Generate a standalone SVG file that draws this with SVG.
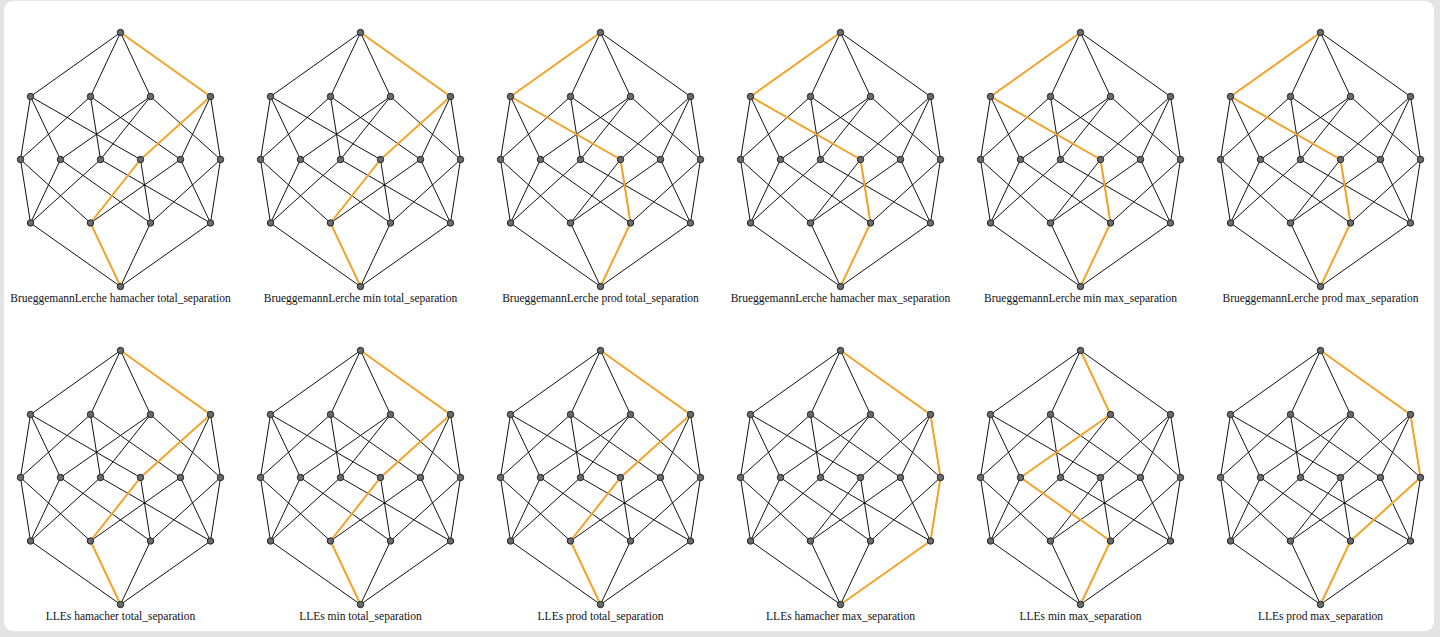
<svg xmlns="http://www.w3.org/2000/svg" xmlns:xlink="http://www.w3.org/1999/xlink" width="1440" height="637" viewBox="0 0 1440 637">
<style>
.e line{stroke:#111;stroke-width:1}
.hl{fill:none;stroke:#f5a52a;stroke-width:2;stroke-linejoin:round}
.node circle{fill:#6b6b6b;stroke:#222;stroke-width:1}
.lbl{font-family:"Liberation Serif","Times New Roman",serif;font-size:11.5px;fill:#111;text-anchor:middle}
</style>
<defs>
<g id="lattice-edges" class="e">
<line x1="120.5" y1="32.5" x2="30.5" y2="96.5"/>
<line x1="120.5" y1="32.5" x2="90.5" y2="96.5"/>
<line x1="120.5" y1="32.5" x2="150.5" y2="96.5"/>
<line x1="120.5" y1="32.5" x2="210.5" y2="96.5"/>
<line x1="30.5" y1="96.5" x2="20.5" y2="159.5"/>
<line x1="30.5" y1="96.5" x2="60.5" y2="159.5"/>
<line x1="30.5" y1="96.5" x2="140.5" y2="159.5"/>
<line x1="90.5" y1="96.5" x2="20.5" y2="159.5"/>
<line x1="90.5" y1="96.5" x2="100.5" y2="159.5"/>
<line x1="90.5" y1="96.5" x2="180.5" y2="159.5"/>
<line x1="150.5" y1="96.5" x2="60.5" y2="159.5"/>
<line x1="150.5" y1="96.5" x2="100.5" y2="159.5"/>
<line x1="150.5" y1="96.5" x2="220.5" y2="159.5"/>
<line x1="210.5" y1="96.5" x2="140.5" y2="159.5"/>
<line x1="210.5" y1="96.5" x2="180.5" y2="159.5"/>
<line x1="210.5" y1="96.5" x2="220.5" y2="159.5"/>
<line x1="20.5" y1="159.5" x2="30.5" y2="223"/>
<line x1="20.5" y1="159.5" x2="90.5" y2="223"/>
<line x1="60.5" y1="159.5" x2="30.5" y2="223"/>
<line x1="60.5" y1="159.5" x2="150.5" y2="223"/>
<line x1="100.5" y1="159.5" x2="30.5" y2="223"/>
<line x1="100.5" y1="159.5" x2="210.5" y2="223"/>
<line x1="140.5" y1="159.5" x2="90.5" y2="223"/>
<line x1="140.5" y1="159.5" x2="150.5" y2="223"/>
<line x1="180.5" y1="159.5" x2="90.5" y2="223"/>
<line x1="180.5" y1="159.5" x2="210.5" y2="223"/>
<line x1="220.5" y1="159.5" x2="150.5" y2="223"/>
<line x1="220.5" y1="159.5" x2="210.5" y2="223"/>
<line x1="30.5" y1="223" x2="120.5" y2="286.5"/>
<line x1="90.5" y1="223" x2="120.5" y2="286.5"/>
<line x1="150.5" y1="223" x2="120.5" y2="286.5"/>
<line x1="210.5" y1="223" x2="120.5" y2="286.5"/>
</g>
</defs>
<rect x="0" y="0" width="1440" height="637" fill="#e4e4e4"/>
<rect x="4" y="1" width="1430" height="630" rx="9" fill="#ffffff"/>

<!-- Panel 1 -->
<g id="panel1" transform="translate(0,0)">
<g id="panel1-connectors"><use xlink:href="#lattice-edges"/><polyline class="hl" points="120.5,32.5 210.5,96.5 140.5,159.5 90.5,223 120.5,286.5"/></g>
<g id="p1-top" class="node"><circle cx="120.5" cy="32.5" r="3.2"/></g>
<g id="p1-abc" class="node"><circle cx="30.5" cy="96.5" r="3.2"/></g>
<g id="p1-abd" class="node"><circle cx="90.5" cy="96.5" r="3.2"/></g>
<g id="p1-acd" class="node"><circle cx="150.5" cy="96.5" r="3.2"/></g>
<g id="p1-bcd" class="node"><circle cx="210.5" cy="96.5" r="3.2"/></g>
<g id="p1-ab" class="node"><circle cx="20.5" cy="159.5" r="3.2"/></g>
<g id="p1-ac" class="node"><circle cx="60.5" cy="159.5" r="3.2"/></g>
<g id="p1-ad" class="node"><circle cx="100.5" cy="159.5" r="3.2"/></g>
<g id="p1-bc" class="node"><circle cx="140.5" cy="159.5" r="3.2"/></g>
<g id="p1-bd" class="node"><circle cx="180.5" cy="159.5" r="3.2"/></g>
<g id="p1-cd" class="node"><circle cx="220.5" cy="159.5" r="3.2"/></g>
<g id="p1-a" class="node"><circle cx="30.5" cy="223" r="3.2"/></g>
<g id="p1-b" class="node"><circle cx="90.5" cy="223" r="3.2"/></g>
<g id="p1-c" class="node"><circle cx="150.5" cy="223" r="3.2"/></g>
<g id="p1-d" class="node"><circle cx="210.5" cy="223" r="3.2"/></g>
<g id="p1-bot" class="node"><circle cx="120.5" cy="286.5" r="3.2"/></g>
<text class="lbl" x="120.5" y="302">BrueggemannLerche hamacher total_separation</text>
</g>

<!-- Panel 2 -->
<g id="panel2" transform="translate(240,0)">
<g id="panel2-connectors"><use xlink:href="#lattice-edges"/><polyline class="hl" points="120.5,32.5 210.5,96.5 140.5,159.5 90.5,223 120.5,286.5"/></g>
<g id="p2-top" class="node"><circle cx="120.5" cy="32.5" r="3.2"/></g>
<g id="p2-abc" class="node"><circle cx="30.5" cy="96.5" r="3.2"/></g>
<g id="p2-abd" class="node"><circle cx="90.5" cy="96.5" r="3.2"/></g>
<g id="p2-acd" class="node"><circle cx="150.5" cy="96.5" r="3.2"/></g>
<g id="p2-bcd" class="node"><circle cx="210.5" cy="96.5" r="3.2"/></g>
<g id="p2-ab" class="node"><circle cx="20.5" cy="159.5" r="3.2"/></g>
<g id="p2-ac" class="node"><circle cx="60.5" cy="159.5" r="3.2"/></g>
<g id="p2-ad" class="node"><circle cx="100.5" cy="159.5" r="3.2"/></g>
<g id="p2-bc" class="node"><circle cx="140.5" cy="159.5" r="3.2"/></g>
<g id="p2-bd" class="node"><circle cx="180.5" cy="159.5" r="3.2"/></g>
<g id="p2-cd" class="node"><circle cx="220.5" cy="159.5" r="3.2"/></g>
<g id="p2-a" class="node"><circle cx="30.5" cy="223" r="3.2"/></g>
<g id="p2-b" class="node"><circle cx="90.5" cy="223" r="3.2"/></g>
<g id="p2-c" class="node"><circle cx="150.5" cy="223" r="3.2"/></g>
<g id="p2-d" class="node"><circle cx="210.5" cy="223" r="3.2"/></g>
<g id="p2-bot" class="node"><circle cx="120.5" cy="286.5" r="3.2"/></g>
<text class="lbl" x="120.5" y="302">BrueggemannLerche min total_separation</text>
</g>

<!-- Panel 3 -->
<g id="panel3" transform="translate(480,0)">
<g id="panel3-connectors"><use xlink:href="#lattice-edges"/><polyline class="hl" points="120.5,32.5 30.5,96.5 140.5,159.5 150.5,223 120.5,286.5"/></g>
<g id="p3-top" class="node"><circle cx="120.5" cy="32.5" r="3.2"/></g>
<g id="p3-abc" class="node"><circle cx="30.5" cy="96.5" r="3.2"/></g>
<g id="p3-abd" class="node"><circle cx="90.5" cy="96.5" r="3.2"/></g>
<g id="p3-acd" class="node"><circle cx="150.5" cy="96.5" r="3.2"/></g>
<g id="p3-bcd" class="node"><circle cx="210.5" cy="96.5" r="3.2"/></g>
<g id="p3-ab" class="node"><circle cx="20.5" cy="159.5" r="3.2"/></g>
<g id="p3-ac" class="node"><circle cx="60.5" cy="159.5" r="3.2"/></g>
<g id="p3-ad" class="node"><circle cx="100.5" cy="159.5" r="3.2"/></g>
<g id="p3-bc" class="node"><circle cx="140.5" cy="159.5" r="3.2"/></g>
<g id="p3-bd" class="node"><circle cx="180.5" cy="159.5" r="3.2"/></g>
<g id="p3-cd" class="node"><circle cx="220.5" cy="159.5" r="3.2"/></g>
<g id="p3-a" class="node"><circle cx="30.5" cy="223" r="3.2"/></g>
<g id="p3-b" class="node"><circle cx="90.5" cy="223" r="3.2"/></g>
<g id="p3-c" class="node"><circle cx="150.5" cy="223" r="3.2"/></g>
<g id="p3-d" class="node"><circle cx="210.5" cy="223" r="3.2"/></g>
<g id="p3-bot" class="node"><circle cx="120.5" cy="286.5" r="3.2"/></g>
<text class="lbl" x="120.5" y="302">BrueggemannLerche prod total_separation</text>
</g>

<!-- Panel 4 -->
<g id="panel4" transform="translate(720,0)">
<g id="panel4-connectors"><use xlink:href="#lattice-edges"/><polyline class="hl" points="120.5,32.5 30.5,96.5 140.5,159.5 150.5,223 120.5,286.5"/></g>
<g id="p4-top" class="node"><circle cx="120.5" cy="32.5" r="3.2"/></g>
<g id="p4-abc" class="node"><circle cx="30.5" cy="96.5" r="3.2"/></g>
<g id="p4-abd" class="node"><circle cx="90.5" cy="96.5" r="3.2"/></g>
<g id="p4-acd" class="node"><circle cx="150.5" cy="96.5" r="3.2"/></g>
<g id="p4-bcd" class="node"><circle cx="210.5" cy="96.5" r="3.2"/></g>
<g id="p4-ab" class="node"><circle cx="20.5" cy="159.5" r="3.2"/></g>
<g id="p4-ac" class="node"><circle cx="60.5" cy="159.5" r="3.2"/></g>
<g id="p4-ad" class="node"><circle cx="100.5" cy="159.5" r="3.2"/></g>
<g id="p4-bc" class="node"><circle cx="140.5" cy="159.5" r="3.2"/></g>
<g id="p4-bd" class="node"><circle cx="180.5" cy="159.5" r="3.2"/></g>
<g id="p4-cd" class="node"><circle cx="220.5" cy="159.5" r="3.2"/></g>
<g id="p4-a" class="node"><circle cx="30.5" cy="223" r="3.2"/></g>
<g id="p4-b" class="node"><circle cx="90.5" cy="223" r="3.2"/></g>
<g id="p4-c" class="node"><circle cx="150.5" cy="223" r="3.2"/></g>
<g id="p4-d" class="node"><circle cx="210.5" cy="223" r="3.2"/></g>
<g id="p4-bot" class="node"><circle cx="120.5" cy="286.5" r="3.2"/></g>
<text class="lbl" x="120.5" y="302">BrueggemannLerche hamacher max_separation</text>
</g>

<!-- Panel 5 -->
<g id="panel5" transform="translate(960,0)">
<g id="panel5-connectors"><use xlink:href="#lattice-edges"/><polyline class="hl" points="120.5,32.5 30.5,96.5 140.5,159.5 150.5,223 120.5,286.5"/></g>
<g id="p5-top" class="node"><circle cx="120.5" cy="32.5" r="3.2"/></g>
<g id="p5-abc" class="node"><circle cx="30.5" cy="96.5" r="3.2"/></g>
<g id="p5-abd" class="node"><circle cx="90.5" cy="96.5" r="3.2"/></g>
<g id="p5-acd" class="node"><circle cx="150.5" cy="96.5" r="3.2"/></g>
<g id="p5-bcd" class="node"><circle cx="210.5" cy="96.5" r="3.2"/></g>
<g id="p5-ab" class="node"><circle cx="20.5" cy="159.5" r="3.2"/></g>
<g id="p5-ac" class="node"><circle cx="60.5" cy="159.5" r="3.2"/></g>
<g id="p5-ad" class="node"><circle cx="100.5" cy="159.5" r="3.2"/></g>
<g id="p5-bc" class="node"><circle cx="140.5" cy="159.5" r="3.2"/></g>
<g id="p5-bd" class="node"><circle cx="180.5" cy="159.5" r="3.2"/></g>
<g id="p5-cd" class="node"><circle cx="220.5" cy="159.5" r="3.2"/></g>
<g id="p5-a" class="node"><circle cx="30.5" cy="223" r="3.2"/></g>
<g id="p5-b" class="node"><circle cx="90.5" cy="223" r="3.2"/></g>
<g id="p5-c" class="node"><circle cx="150.5" cy="223" r="3.2"/></g>
<g id="p5-d" class="node"><circle cx="210.5" cy="223" r="3.2"/></g>
<g id="p5-bot" class="node"><circle cx="120.5" cy="286.5" r="3.2"/></g>
<text class="lbl" x="120.5" y="302">BrueggemannLerche min max_separation</text>
</g>

<!-- Panel 6 -->
<g id="panel6" transform="translate(1200,0)">
<g id="panel6-connectors"><use xlink:href="#lattice-edges"/><polyline class="hl" points="120.5,32.5 30.5,96.5 140.5,159.5 150.5,223 120.5,286.5"/></g>
<g id="p6-top" class="node"><circle cx="120.5" cy="32.5" r="3.2"/></g>
<g id="p6-abc" class="node"><circle cx="30.5" cy="96.5" r="3.2"/></g>
<g id="p6-abd" class="node"><circle cx="90.5" cy="96.5" r="3.2"/></g>
<g id="p6-acd" class="node"><circle cx="150.5" cy="96.5" r="3.2"/></g>
<g id="p6-bcd" class="node"><circle cx="210.5" cy="96.5" r="3.2"/></g>
<g id="p6-ab" class="node"><circle cx="20.5" cy="159.5" r="3.2"/></g>
<g id="p6-ac" class="node"><circle cx="60.5" cy="159.5" r="3.2"/></g>
<g id="p6-ad" class="node"><circle cx="100.5" cy="159.5" r="3.2"/></g>
<g id="p6-bc" class="node"><circle cx="140.5" cy="159.5" r="3.2"/></g>
<g id="p6-bd" class="node"><circle cx="180.5" cy="159.5" r="3.2"/></g>
<g id="p6-cd" class="node"><circle cx="220.5" cy="159.5" r="3.2"/></g>
<g id="p6-a" class="node"><circle cx="30.5" cy="223" r="3.2"/></g>
<g id="p6-b" class="node"><circle cx="90.5" cy="223" r="3.2"/></g>
<g id="p6-c" class="node"><circle cx="150.5" cy="223" r="3.2"/></g>
<g id="p6-d" class="node"><circle cx="210.5" cy="223" r="3.2"/></g>
<g id="p6-bot" class="node"><circle cx="120.5" cy="286.5" r="3.2"/></g>
<text class="lbl" x="120.5" y="302">BrueggemannLerche prod max_separation</text>
</g>

<!-- Panel 7 -->
<g id="panel7" transform="translate(0,318)">
<g id="panel7-connectors"><use xlink:href="#lattice-edges"/><polyline class="hl" points="120.5,32.5 210.5,96.5 140.5,159.5 90.5,223 120.5,286.5"/></g>
<g id="p7-top" class="node"><circle cx="120.5" cy="32.5" r="3.2"/></g>
<g id="p7-abc" class="node"><circle cx="30.5" cy="96.5" r="3.2"/></g>
<g id="p7-abd" class="node"><circle cx="90.5" cy="96.5" r="3.2"/></g>
<g id="p7-acd" class="node"><circle cx="150.5" cy="96.5" r="3.2"/></g>
<g id="p7-bcd" class="node"><circle cx="210.5" cy="96.5" r="3.2"/></g>
<g id="p7-ab" class="node"><circle cx="20.5" cy="159.5" r="3.2"/></g>
<g id="p7-ac" class="node"><circle cx="60.5" cy="159.5" r="3.2"/></g>
<g id="p7-ad" class="node"><circle cx="100.5" cy="159.5" r="3.2"/></g>
<g id="p7-bc" class="node"><circle cx="140.5" cy="159.5" r="3.2"/></g>
<g id="p7-bd" class="node"><circle cx="180.5" cy="159.5" r="3.2"/></g>
<g id="p7-cd" class="node"><circle cx="220.5" cy="159.5" r="3.2"/></g>
<g id="p7-a" class="node"><circle cx="30.5" cy="223" r="3.2"/></g>
<g id="p7-b" class="node"><circle cx="90.5" cy="223" r="3.2"/></g>
<g id="p7-c" class="node"><circle cx="150.5" cy="223" r="3.2"/></g>
<g id="p7-d" class="node"><circle cx="210.5" cy="223" r="3.2"/></g>
<g id="p7-bot" class="node"><circle cx="120.5" cy="286.5" r="3.2"/></g>
<text class="lbl" x="120.5" y="302">LLEs hamacher total_separation</text>
</g>

<!-- Panel 8 -->
<g id="panel8" transform="translate(240,318)">
<g id="panel8-connectors"><use xlink:href="#lattice-edges"/><polyline class="hl" points="120.5,32.5 210.5,96.5 140.5,159.5 90.5,223 120.5,286.5"/></g>
<g id="p8-top" class="node"><circle cx="120.5" cy="32.5" r="3.2"/></g>
<g id="p8-abc" class="node"><circle cx="30.5" cy="96.5" r="3.2"/></g>
<g id="p8-abd" class="node"><circle cx="90.5" cy="96.5" r="3.2"/></g>
<g id="p8-acd" class="node"><circle cx="150.5" cy="96.5" r="3.2"/></g>
<g id="p8-bcd" class="node"><circle cx="210.5" cy="96.5" r="3.2"/></g>
<g id="p8-ab" class="node"><circle cx="20.5" cy="159.5" r="3.2"/></g>
<g id="p8-ac" class="node"><circle cx="60.5" cy="159.5" r="3.2"/></g>
<g id="p8-ad" class="node"><circle cx="100.5" cy="159.5" r="3.2"/></g>
<g id="p8-bc" class="node"><circle cx="140.5" cy="159.5" r="3.2"/></g>
<g id="p8-bd" class="node"><circle cx="180.5" cy="159.5" r="3.2"/></g>
<g id="p8-cd" class="node"><circle cx="220.5" cy="159.5" r="3.2"/></g>
<g id="p8-a" class="node"><circle cx="30.5" cy="223" r="3.2"/></g>
<g id="p8-b" class="node"><circle cx="90.5" cy="223" r="3.2"/></g>
<g id="p8-c" class="node"><circle cx="150.5" cy="223" r="3.2"/></g>
<g id="p8-d" class="node"><circle cx="210.5" cy="223" r="3.2"/></g>
<g id="p8-bot" class="node"><circle cx="120.5" cy="286.5" r="3.2"/></g>
<text class="lbl" x="120.5" y="302">LLEs min total_separation</text>
</g>

<!-- Panel 9 -->
<g id="panel9" transform="translate(480,318)">
<g id="panel9-connectors"><use xlink:href="#lattice-edges"/><polyline class="hl" points="120.5,32.5 210.5,96.5 140.5,159.5 90.5,223 120.5,286.5"/></g>
<g id="p9-top" class="node"><circle cx="120.5" cy="32.5" r="3.2"/></g>
<g id="p9-abc" class="node"><circle cx="30.5" cy="96.5" r="3.2"/></g>
<g id="p9-abd" class="node"><circle cx="90.5" cy="96.5" r="3.2"/></g>
<g id="p9-acd" class="node"><circle cx="150.5" cy="96.5" r="3.2"/></g>
<g id="p9-bcd" class="node"><circle cx="210.5" cy="96.5" r="3.2"/></g>
<g id="p9-ab" class="node"><circle cx="20.5" cy="159.5" r="3.2"/></g>
<g id="p9-ac" class="node"><circle cx="60.5" cy="159.5" r="3.2"/></g>
<g id="p9-ad" class="node"><circle cx="100.5" cy="159.5" r="3.2"/></g>
<g id="p9-bc" class="node"><circle cx="140.5" cy="159.5" r="3.2"/></g>
<g id="p9-bd" class="node"><circle cx="180.5" cy="159.5" r="3.2"/></g>
<g id="p9-cd" class="node"><circle cx="220.5" cy="159.5" r="3.2"/></g>
<g id="p9-a" class="node"><circle cx="30.5" cy="223" r="3.2"/></g>
<g id="p9-b" class="node"><circle cx="90.5" cy="223" r="3.2"/></g>
<g id="p9-c" class="node"><circle cx="150.5" cy="223" r="3.2"/></g>
<g id="p9-d" class="node"><circle cx="210.5" cy="223" r="3.2"/></g>
<g id="p9-bot" class="node"><circle cx="120.5" cy="286.5" r="3.2"/></g>
<text class="lbl" x="120.5" y="302">LLEs prod total_separation</text>
</g>

<!-- Panel 10 -->
<g id="panel10" transform="translate(720,318)">
<g id="panel10-connectors"><use xlink:href="#lattice-edges"/><polyline class="hl" points="120.5,32.5 210.5,96.5 220.5,159.5 210.5,223 120.5,286.5"/></g>
<g id="p10-top" class="node"><circle cx="120.5" cy="32.5" r="3.2"/></g>
<g id="p10-abc" class="node"><circle cx="30.5" cy="96.5" r="3.2"/></g>
<g id="p10-abd" class="node"><circle cx="90.5" cy="96.5" r="3.2"/></g>
<g id="p10-acd" class="node"><circle cx="150.5" cy="96.5" r="3.2"/></g>
<g id="p10-bcd" class="node"><circle cx="210.5" cy="96.5" r="3.2"/></g>
<g id="p10-ab" class="node"><circle cx="20.5" cy="159.5" r="3.2"/></g>
<g id="p10-ac" class="node"><circle cx="60.5" cy="159.5" r="3.2"/></g>
<g id="p10-ad" class="node"><circle cx="100.5" cy="159.5" r="3.2"/></g>
<g id="p10-bc" class="node"><circle cx="140.5" cy="159.5" r="3.2"/></g>
<g id="p10-bd" class="node"><circle cx="180.5" cy="159.5" r="3.2"/></g>
<g id="p10-cd" class="node"><circle cx="220.5" cy="159.5" r="3.2"/></g>
<g id="p10-a" class="node"><circle cx="30.5" cy="223" r="3.2"/></g>
<g id="p10-b" class="node"><circle cx="90.5" cy="223" r="3.2"/></g>
<g id="p10-c" class="node"><circle cx="150.5" cy="223" r="3.2"/></g>
<g id="p10-d" class="node"><circle cx="210.5" cy="223" r="3.2"/></g>
<g id="p10-bot" class="node"><circle cx="120.5" cy="286.5" r="3.2"/></g>
<text class="lbl" x="120.5" y="302">LLEs hamacher max_separation</text>
</g>

<!-- Panel 11 -->
<g id="panel11" transform="translate(960,318)">
<g id="panel11-connectors"><use xlink:href="#lattice-edges"/><polyline class="hl" points="120.5,32.5 150.5,96.5 60.5,159.5 150.5,223 120.5,286.5"/></g>
<g id="p11-top" class="node"><circle cx="120.5" cy="32.5" r="3.2"/></g>
<g id="p11-abc" class="node"><circle cx="30.5" cy="96.5" r="3.2"/></g>
<g id="p11-abd" class="node"><circle cx="90.5" cy="96.5" r="3.2"/></g>
<g id="p11-acd" class="node"><circle cx="150.5" cy="96.5" r="3.2"/></g>
<g id="p11-bcd" class="node"><circle cx="210.5" cy="96.5" r="3.2"/></g>
<g id="p11-ab" class="node"><circle cx="20.5" cy="159.5" r="3.2"/></g>
<g id="p11-ac" class="node"><circle cx="60.5" cy="159.5" r="3.2"/></g>
<g id="p11-ad" class="node"><circle cx="100.5" cy="159.5" r="3.2"/></g>
<g id="p11-bc" class="node"><circle cx="140.5" cy="159.5" r="3.2"/></g>
<g id="p11-bd" class="node"><circle cx="180.5" cy="159.5" r="3.2"/></g>
<g id="p11-cd" class="node"><circle cx="220.5" cy="159.5" r="3.2"/></g>
<g id="p11-a" class="node"><circle cx="30.5" cy="223" r="3.2"/></g>
<g id="p11-b" class="node"><circle cx="90.5" cy="223" r="3.2"/></g>
<g id="p11-c" class="node"><circle cx="150.5" cy="223" r="3.2"/></g>
<g id="p11-d" class="node"><circle cx="210.5" cy="223" r="3.2"/></g>
<g id="p11-bot" class="node"><circle cx="120.5" cy="286.5" r="3.2"/></g>
<text class="lbl" x="120.5" y="302">LLEs min max_separation</text>
</g>

<!-- Panel 12 -->
<g id="panel12" transform="translate(1200,318)">
<g id="panel12-connectors"><use xlink:href="#lattice-edges"/><polyline class="hl" points="120.5,32.5 210.5,96.5 220.5,159.5 150.5,223 120.5,286.5"/></g>
<g id="p12-top" class="node"><circle cx="120.5" cy="32.5" r="3.2"/></g>
<g id="p12-abc" class="node"><circle cx="30.5" cy="96.5" r="3.2"/></g>
<g id="p12-abd" class="node"><circle cx="90.5" cy="96.5" r="3.2"/></g>
<g id="p12-acd" class="node"><circle cx="150.5" cy="96.5" r="3.2"/></g>
<g id="p12-bcd" class="node"><circle cx="210.5" cy="96.5" r="3.2"/></g>
<g id="p12-ab" class="node"><circle cx="20.5" cy="159.5" r="3.2"/></g>
<g id="p12-ac" class="node"><circle cx="60.5" cy="159.5" r="3.2"/></g>
<g id="p12-ad" class="node"><circle cx="100.5" cy="159.5" r="3.2"/></g>
<g id="p12-bc" class="node"><circle cx="140.5" cy="159.5" r="3.2"/></g>
<g id="p12-bd" class="node"><circle cx="180.5" cy="159.5" r="3.2"/></g>
<g id="p12-cd" class="node"><circle cx="220.5" cy="159.5" r="3.2"/></g>
<g id="p12-a" class="node"><circle cx="30.5" cy="223" r="3.2"/></g>
<g id="p12-b" class="node"><circle cx="90.5" cy="223" r="3.2"/></g>
<g id="p12-c" class="node"><circle cx="150.5" cy="223" r="3.2"/></g>
<g id="p12-d" class="node"><circle cx="210.5" cy="223" r="3.2"/></g>
<g id="p12-bot" class="node"><circle cx="120.5" cy="286.5" r="3.2"/></g>
<text class="lbl" x="120.5" y="302">LLEs prod max_separation</text>
</g>
</svg>
